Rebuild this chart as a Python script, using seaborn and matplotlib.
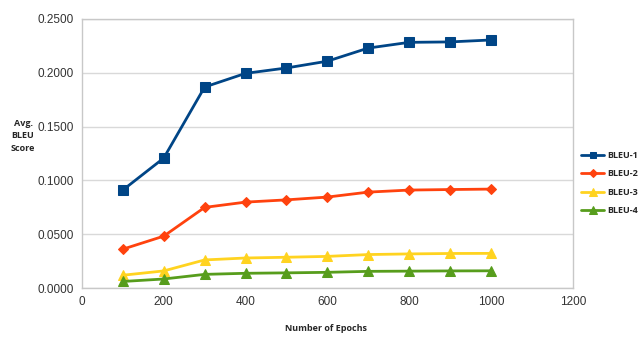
import matplotlib
matplotlib.use("Agg")
import matplotlib.pyplot as plt
import seaborn as sns
import pandas as pd

epochs = [100, 200, 300, 400, 500, 600, 700, 800, 900, 1000]
bleu1 = [0.0911, 0.1208, 0.1868, 0.1995, 0.2045, 0.2108, 0.2230, 0.2283, 0.2287, 0.2305]
bleu2 = [0.0362, 0.0483, 0.0750, 0.0799, 0.0820, 0.0846, 0.0892, 0.0911, 0.0916, 0.0920]
bleu3 = [0.0120, 0.0160, 0.0262, 0.0280, 0.0287, 0.0295, 0.0312, 0.0318, 0.0322, 0.0323]
bleu4 = [0.0062, 0.0085, 0.0128, 0.0138, 0.0142, 0.0147, 0.0156, 0.0158, 0.0160, 0.0161]
series_names = ["BLEU-1", "BLEU-2", "BLEU-3", "BLEU-4"]

rows = []
for name, vals in zip(series_names, [bleu1, bleu2, bleu3, bleu4]):
    for e, v in zip(epochs, vals):
        rows.append({"Epochs": e, "Score": v, "Series": name})
df = pd.DataFrame(rows)

sns.set_style("white")
plt.rcParams['font.family'] = ['Liberation Sans', 'DejaVu Sans']

colors = {"BLEU-1": "#004586", "BLEU-2": "#FF420E", "BLEU-3": "#FFD320", "BLEU-4": "#579D1C"}
markers = {"BLEU-1": "s", "BLEU-2": "D", "BLEU-3": "^", "BLEU-4": "^"}
msizes = {"BLEU-1": 6.5, "BLEU-2": 5, "BLEU-3": 7, "BLEU-4": 7}

fig = plt.figure(figsize=(6.4, 3.39), dpi=100)
ax = fig.add_axes([0.128, 0.150, 0.767, 0.794])

for name in series_names:
    sub = df[df["Series"] == name]
    sns.lineplot(data=sub, x="Epochs", y="Score", ax=ax, color=colors[name],
                 marker=markers[name], markersize=msizes[name], linewidth=2,
                 markeredgecolor=colors[name], label=name)

ax.set_xlim(0, 1200)
ax.set_ylim(0, 0.25)
ax.set_xticks(range(0, 1201, 200))
ax.set_yticks([0, 0.05, 0.10, 0.15, 0.20, 0.25])
ax.set_yticklabels([f"{v:.4f}" for v in [0, 0.05, 0.10, 0.15, 0.20, 0.25]])
ax.tick_params(axis='both', labelsize=8.5, colors='#333333', length=0, pad=6)
ax.yaxis.grid(True, color='#d9d9d9', linewidth=1)
ax.xaxis.grid(False)
for s in ax.spines.values():
    s.set_color('#c8c8c8')
    s.set_linewidth(1)

ax.set_xlabel("")
ax.set_ylabel("")
fig.text(0.51, 0.018, "Number of Epochs", ha='center', va='bottom',
         fontsize=6.5, fontweight='bold', family=['Open Sans', 'DejaVu Sans'])
fig.text(0.036, 0.60, "Avg.\nBLEU\nScore", ha='center', va='center',
         fontsize=6.5, fontweight='bold', linespacing=1.5, family=['Open Sans', 'DejaVu Sans'])

leg = ax.legend(loc='center left', bbox_to_anchor=(1.0, 0.39), frameon=False,
                handlelength=2.6, labelspacing=1.05, handletextpad=0.3, markerscale=0.75,
                prop={'family': ['Open Sans', 'DejaVu Sans'], 'weight': 'bold', 'size': 6.5})

fig.savefig("out.png", dpi=100)
